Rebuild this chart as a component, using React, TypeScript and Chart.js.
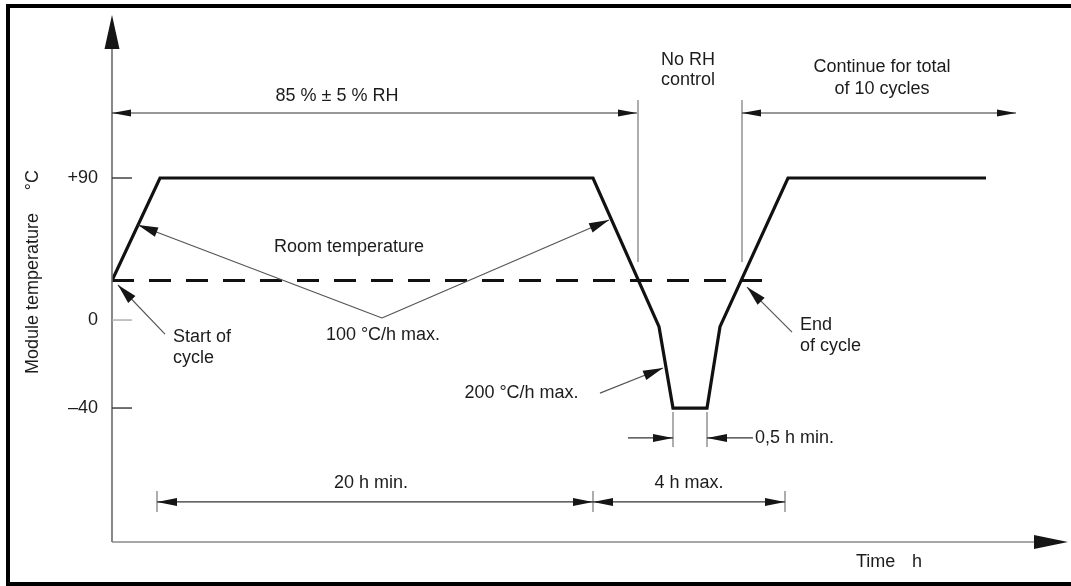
import React, { useEffect, useRef } from 'react';
import { Chart, registerables, LinearScale } from 'chart.js';

Chart.register(...registerables);

// Below 0 °C the drawing is not to scale: negative temperatures are stretched.
const NEG_STRETCH = 1.394;

class SegmentedScale extends LinearScale {
  static id = 'segmented';
  static defaults = LinearScale.defaults;
  getPixelForValue(value: number) {
    return super.getPixelForValue(value < 0 ? value * NEG_STRETCH : value);
  }
  getValueForPixel(pixel: number) {
    const w = super.getValueForPixel(pixel) as number;
    return w < 0 ? w / NEG_STRETCH : w;
  }
}
Chart.register(SegmentedScale as any);

// ---- data (time in diagram units, temperature in °C) ----
const profileTime = [0, 4.8, 48.1, 54.7, 56.1, 59.5, 60.8, 67.6, 87.4];
const profileTemp = [25, 90, 90, -3, -40, -40, -3, 90, 90];
const roomTemp = 25;
const roomTempSpan = [0, 65];
const tickValues = [90, 0, -40];
const tickLabels = ['+90', '0', '–40'];
const tickColors = ['#333', '#aaa', '#333'];

// ---- annotation layout ----
const textLabels = [
  { text: '85 % ± 5 % RH', t: 22.5, v: 142.0, align: 'center' },
  { text: 'No RH', t: 57.6, v: 164.8, align: 'center' },
  { text: 'control', t: 57.6, v: 152.1, align: 'center' },
  { text: 'Continue for total', t: 77.0, v: 160.4, align: 'center' },
  { text: 'of 10 cycles', t: 77.0, v: 146.4, align: 'center' },
  { text: 'Room temperature', t: 23.7, v: 46.3, align: 'center' },
  { text: '100 °C/h max.', t: 27.1, v: -6.8, align: 'center' },
  { text: 'Start of', t: 6.1, v: -7.7, align: 'left' },
  { text: 'cycle', t: 6.1, v: -17.3, align: 'left' },
  { text: 'End', t: 68.8, v: -2.3, align: 'left' },
  { text: 'of cycle', t: 68.8, v: -11.8, align: 'left' },
  { text: '200 °C/h max.', t: 40.95, v: -33.2, align: 'center' },
  { text: '0,5 h min.', t: 64.3, v: -53.6, align: 'left' },
  { text: '20 h min.', t: 25.9, v: -74.1, align: 'center' },
  { text: '4 h max.', t: 57.7, v: -74.1, align: 'center' },
  { text: 'Time', t: 74.4, v: -110, align: 'left' },
  { text: 'h', t: 80.0, v: -110, align: 'left' },
];

const pointers = [
  { from: [27.0, 1.3], to: [2.6, 60.2] },
  { from: [27.0, 1.3], to: [49.7, 63.4] },
  { from: [5.3, -6.4], to: [0.6, 22.2] },
  { from: [68.0, -5.5], to: [63.5, 20.9] },
  { from: [48.8, -33.2], to: [55.1, -21.8] },
];

const spans = [
  { t0: 0, t1: 52.5, v: 131.2, len: 19, half: 3.5 },
  { t0: 63.0, t1: 90.4, v: 131.2, len: 19, half: 3.5 },
  { t0: 4.5, t1: 48.1, v: -82.7, len: 20, half: 4 },
  { t0: 48.1, t1: 67.3, v: -82.7, len: 20, half: 4 },
];

const guides = [
  { t: 52.6, v0: 139.4, v1: 36.8 },
  { t: 63.0, v0: 139.4, v1: 36.8 },
  { t: 4.5, v0: -77.7, v1: -87.3 },
  { t: 48.1, v0: -77.7, v1: -87.3 },
  { t: 67.3, v0: -77.7, v1: -87.3 },
  { t: 56.1, v0: -41.8, v1: -57.7 },
  { t: 59.5, v0: -41.8, v1: -57.7 },
];

const inwardArrows = [
  { from: [51.6, -53.6], to: [56.1, -53.6] },
  { from: [64.1, -53.6], to: [59.5, -53.6] },
];

const X_MIN = 0;
const X_MAX = 95.6;
const Y_MAX = 193.3;
const Y_MIN = -100.9;

const FONT = '18px "Liberation Sans", Arial, Helvetica, sans-serif';
const TEXT_COLOR = '#1c1c1c';

function head(ctx: CanvasRenderingContext2D, tip: number[], from: number[], len = 20, half = 4.5) {
  const ang = Math.atan2(tip[1] - from[1], tip[0] - from[0]);
  const bx = tip[0] - len * Math.cos(ang);
  const by = tip[1] - len * Math.sin(ang);
  const nx = -Math.sin(ang) * half;
  const ny = Math.cos(ang) * half;
  ctx.beginPath();
  ctx.moveTo(tip[0], tip[1]);
  ctx.lineTo(bx + nx, by + ny);
  ctx.lineTo(bx - nx, by - ny);
  ctx.closePath();
  ctx.fill();
}

function seg(ctx: CanvasRenderingContext2D, a: number[], b: number[]) {
  ctx.beginPath();
  ctx.moveTo(a[0], a[1]);
  ctx.lineTo(b[0], b[1]);
  ctx.stroke();
}

const diagramPlugin = {
  id: 'diagram',
  beforeDraw(chart: any) {
    const ctx: CanvasRenderingContext2D = chart.ctx;
    ctx.save();
    ctx.fillStyle = '#fff';
    ctx.fillRect(0, 0, chart.width, chart.height);
    ctx.fillStyle = '#000';
    ctx.fillRect(6, 4, chart.width - 6, 4);
    ctx.fillRect(6, 4, 4, chart.height - 4);
    ctx.fillRect(6, chart.height - 4, chart.width - 6, 4);
    ctx.restore();
  },
  afterDraw(chart: any) {
    const ctx: CanvasRenderingContext2D = chart.ctx;
    const xs = chart.scales.x;
    const ys = chart.scales.y;
    const P = (t: number, v: number) => [xs.getPixelForValue(t), ys.getPixelForValue(v)];
    const area = chart.chartArea;
    ctx.save();

    // axes
    const x0 = xs.getPixelForValue(0);
    ctx.strokeStyle = '#6a6a6a';
    ctx.lineWidth = 1.6;
    seg(ctx, [x0, area.bottom], [x0, area.top + 20]);
    ctx.strokeStyle = '#8a8a8a';
    seg(ctx, [x0, area.bottom], [area.right - 20, area.bottom]);
    ctx.fillStyle = '#151515';
    head(ctx, [x0, area.top], [x0, area.top + 50], 34, 7.5);
    head(ctx, [area.right, area.bottom], [area.right - 50, area.bottom], 34, 7);

    // y ticks
    ctx.lineWidth = 1.4;
    ctx.font = FONT;
    ctx.textBaseline = 'middle';
    tickValues.forEach((v, i) => {
      const p = P(0, v);
      ctx.strokeStyle = tickColors[i];
      seg(ctx, [p[0], p[1]], [P(2, v)[0], p[1]]);
      ctx.fillStyle = TEXT_COLOR;
      ctx.textAlign = 'right';
      ctx.fillText(tickLabels[i], P(-1.4, v)[0], p[1]);
    });

    // y title
    ctx.save();
    const tp = P(-7.9, 16.8);
    ctx.translate(tp[0], tp[1]);
    ctx.rotate(-Math.PI / 2);
    ctx.textAlign = 'center';
    ctx.fillStyle = TEXT_COLOR;
    ctx.fillText('Module temperature', 0, 0);
    ctx.restore();
    ctx.save();
    const tc = P(-7.9, 88.7);
    ctx.translate(tc[0], tc[1]);
    ctx.rotate(-Math.PI / 2);
    ctx.textAlign = 'center';
    ctx.fillStyle = TEXT_COLOR;
    ctx.fillText('°C', 0, 0);
    ctx.restore();

    // guides
    ctx.strokeStyle = '#777';
    ctx.lineWidth = 1.2;
    guides.forEach((g) => seg(ctx, P(g.t, g.v0), P(g.t, g.v1)));

    // dimension spans
    ctx.strokeStyle = '#333';
    ctx.fillStyle = '#151515';
    ctx.lineWidth = 1.2;
    spans.forEach((s) => {
      const a = P(s.t0, s.v);
      const b = P(s.t1, s.v);
      seg(ctx, a, b);
      head(ctx, a, b, s.len, s.half);
      head(ctx, b, a, s.len, s.half);
    });
    inwardArrows.forEach((s) => {
      const a = P(s.from[0], s.from[1]);
      const b = P(s.to[0], s.to[1]);
      seg(ctx, a, b);
      head(ctx, b, a, 20, 4);
    });

    // pointers
    ctx.strokeStyle = '#555';
    ctx.lineWidth = 1.2;
    pointers.forEach((p) => {
      const a = P(p.from[0], p.from[1]);
      const b = P(p.to[0], p.to[1]);
      seg(ctx, a, b);
      head(ctx, b, a, 20, 5);
    });

    // labels
    ctx.fillStyle = TEXT_COLOR;
    ctx.font = FONT;
    ctx.textBaseline = 'middle';
    textLabels.forEach((l) => {
      const p = P(l.t, l.v);
      ctx.textAlign = l.align as CanvasTextAlign;
      ctx.fillText(l.text, p[0], p[1]);
    });
    ctx.restore();
  },
};

export default function App() {
  const ref = useRef<HTMLCanvasElement | null>(null);
  useEffect(() => {
    if (!ref.current) return;
    const chart = new Chart(ref.current, {
      type: 'line',
      data: {
        datasets: [
          {
            label: 'Module temperature',
            data: profileTime.map((t, i) => ({ x: t, y: profileTemp[i] })),
            borderColor: '#111',
            borderWidth: 3.2,
            pointRadius: 0,
            tension: 0,
            fill: false,
            borderJoinStyle: 'miter',
          },
          {
            label: 'Room temperature',
            data: roomTempSpan.map((t) => ({ x: t, y: roomTemp })),
            borderColor: '#111',
            borderWidth: 3,
            borderDash: [22, 15],
            pointRadius: 0,
            fill: false,
          },
        ],
      },
      options: {
        responsive: false,
        animation: false,
        devicePixelRatio: 1,
        layout: { padding: { left: 112, right: 3, top: 15, bottom: 44 } },
        plugins: { legend: { display: false }, tooltip: { enabled: false }, title: { display: false } },
        scales: {
          x: { type: 'linear', min: X_MIN, max: X_MAX, bounds: 'data', display: false },
          y: {
            type: 'segmented' as any,
            min: Y_MIN * NEG_STRETCH,
            max: Y_MAX,
            bounds: 'data',
            display: false,
          },
        },
        events: [],
      },
      plugins: [diagramPlugin],
    } as any);
    return () => chart.destroy();
  }, []);
  return (
    <div style={{ position: 'absolute', left: 0, top: 0, width: 1071, height: 586 }}>
      <canvas ref={ref} width={1071} height={586} />
    </div>
  );
}
